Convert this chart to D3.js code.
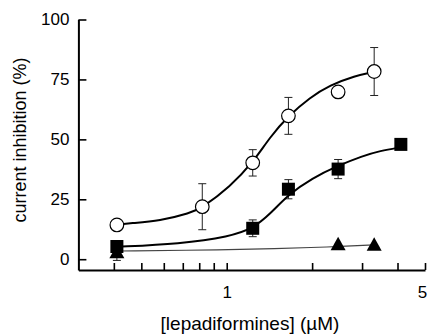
<!DOCTYPE html>
<html>
<head>
<meta charset="utf-8">
<script src="https://cdn.jsdelivr.net/npm/d3@7"></script>
<style>
  body { margin: 0; background: #fff; }
  svg { display: block; font-family: "Liberation Sans", Arial, sans-serif; }
</style>
</head>
<body>
<svg id="chart" width="428" height="335"></svg>
<script>
// measured points (concentration in µM, inhibition in %)
const circleConc = [0.41, 0.82, 1.235, 1.65, 2.47, 3.31];
const circleVals = [14.3, 21.9, 40.2, 59.8, 69.8, 78.3];
const circleErr = [0, 9.6, 5.5, 7.7, 0, 10.0];

const squareConc = [0.41, 1.235, 1.65, 2.47, 4.11];
const squareVals = [5.3, 12.9, 29.2, 37.6, 47.9];
const squareErr = [0, 3.5, 4.0, 4.0, 0];

const triangleConc = [0.41, 2.47, 3.31];
const triangleVals = [2.5, 5.8, 5.6];
const triangleErr = [3.0, 0, 0];

// fitted curves
const circleFitConc = [0.41, 0.456, 0.582, 0.743, 0.82, 1.027, 1.235, 1.421, 1.65, 1.966, 2.31, 2.83, 3.31];
const circleFitVals = [14.4, 15.0, 16.0, 19.2, 21.5, 30.3, 40.2, 51.0, 59.8, 67.5, 72.6, 76.5, 78.2];
const squareFitConc = [0.41, 0.684, 1.027, 1.235, 1.421, 1.65, 2.0, 2.466, 3.0, 3.47, 4.11];
const squareFitVals = [5.2, 6.4, 9.4, 12.8, 18.8, 27.0, 33.8, 39.0, 43.0, 45.2, 46.7];
const triangleFitConc = [0.41, 1.0, 1.5, 2.0, 2.5, 3.31];
const triangleFitVals = [3.4, 3.9, 4.4, 4.9, 5.3, 6.0];

const xTicks = [0.4, 0.5, 0.6, 0.7, 0.8, 0.9, 1, 2, 3, 4, 5];
const xTickLabels = {1: "1", 5: "5"};
const yTicks = [0, 25, 50, 75, 100];

const svg = d3.select("#chart");

const x = d3.scaleLog().domain([0.3, 5]).range([78.4, 425]);
const y = d3.scaleLinear().domain([-4.5, 100]).range([270, 19.5]);

const zip = (xs, ys) => xs.map((v, i) => ({x: v, y: ys[i]}));

// Axes
const xAxis = svg.append("g")
	.attr("transform", "translate(0,270)")
	.call(d3.axisBottom(x)
		.tickValues(xTicks)
		.tickFormat(d => xTickLabels[d] || "")
		.tickSizeInner(-7)
		.tickSizeOuter(0)
		.tickPadding(16));
xAxis.select(".domain").attr("stroke-width", 2);
xAxis.selectAll(".tick line").attr("stroke-width", 1.6);
xAxis.selectAll("text").attr("font-size", "17px").attr("font-family", "Liberation Sans, Arial, sans-serif").attr("fill", "#000");
// keep the last label inside the frame
xAxis.selectAll(".tick").filter(d => d === 5).select("text").attr("dx", "-3");

const yAxis = svg.append("g")
	.attr("transform", "translate(78.4,0)")
	.call(d3.axisLeft(y)
		.tickValues(yTicks)
		.tickSizeInner(-8)
		.tickSizeOuter(0)
		.tickPadding(9));
yAxis.select(".domain").attr("stroke-width", 2);
yAxis.selectAll(".tick line").attr("stroke-width", 1.6);
yAxis.selectAll("text").attr("font-size", "17px").attr("font-family", "Liberation Sans, Arial, sans-serif").attr("fill", "#000");

// Axis titles
svg.append("text")
	.attr("x", 250)
	.attr("y", 330)
	.attr("text-anchor", "middle")
	.attr("font-size", "19px")
	.text("[lepadiformines] (µM)");

svg.append("text")
	.attr("transform", "translate(26,140) rotate(-90)")
	.attr("text-anchor", "middle")
	.attr("font-size", "18px")
	.text("current inhibition (%)");

const plot = svg.append("g");

// Error bars
function errorBars(conc, vals, errs) {
	const data = conc.map((c, i) => ({x: c, y: vals[i], e: errs[i]})).filter(d => d.e > 0);
	const g = plot.append("g").attr("stroke", "#222").attr("stroke-width", 1);
	g.selectAll("line.v").data(data).join("line")
		.attr("x1", d => x(d.x)).attr("x2", d => x(d.x))
		.attr("y1", d => y(d.y - d.e)).attr("y2", d => y(d.y + d.e));
	for (const sign of [-1, 1]) {
		g.selectAll(null).data(data).join("line")
			.attr("x1", d => x(d.x) - 4).attr("x2", d => x(d.x) + 4)
			.attr("y1", d => y(d.y + sign * d.e)).attr("y2", d => y(d.y + sign * d.e));
	}
}
errorBars(circleConc, circleVals, circleErr);
errorBars(squareConc, squareVals, squareErr);
errorBars(triangleConc, triangleVals, triangleErr);

// Fit curves
const line = d3.line().x(d => x(d.x)).y(d => y(d.y)).curve(d3.curveBasis);
plot.append("path").datum(zip(triangleFitConc, triangleFitVals))
	.attr("d", line).attr("fill", "none").attr("stroke", "#444").attr("stroke-width", 1.1);
plot.append("path").datum(zip(squareFitConc, squareFitVals))
	.attr("d", line).attr("fill", "none").attr("stroke", "#000").attr("stroke-width", 2);
plot.append("path").datum(zip(circleFitConc, circleFitVals))
	.attr("d", line).attr("fill", "none").attr("stroke", "#000").attr("stroke-width", 2);

// Markers
plot.selectAll("path.tri").data(zip(triangleConc, triangleVals)).join("path")
	.attr("class", "tri")
	.attr("transform", d => `translate(${x(d.x)},${y(d.y)})`)
	.attr("d", "M0,-8.5L7.5,5L-7.5,5Z")
	.attr("fill", "#000");

plot.selectAll("rect.sq").data(zip(squareConc, squareVals)).join("rect")
	.attr("class", "sq")
	.attr("x", d => x(d.x) - 6.5).attr("y", d => y(d.y) - 6.5)
	.attr("width", 13).attr("height", 13)
	.attr("fill", "#000");

plot.selectAll("circle.ci").data(zip(circleConc, circleVals)).join("circle")
	.attr("class", "ci")
	.attr("cx", d => x(d.x)).attr("cy", d => y(d.y))
	.attr("r", 6.8)
	.attr("fill", "#fff").attr("stroke", "#000").attr("stroke-width", 1.2);
</script>
</body>
</html>
